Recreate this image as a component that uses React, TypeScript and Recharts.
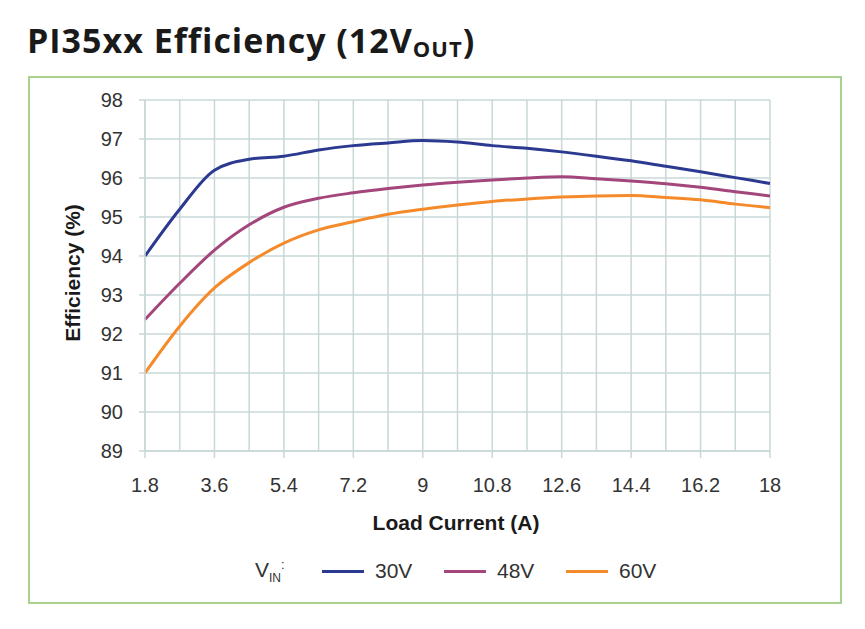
import { LineChart, Line, XAxis, YAxis, CartesianGrid } from "recharts"

const loadCurrent = [1.8, 2.7, 3.6, 4.5, 5.4, 6.3, 7.2, 8.1, 9, 9.9, 10.8, 11.7, 12.6, 13.5, 14.4, 15.3, 16.2, 17.1, 18]
const eff30V = [94.0, 95.2, 96.2, 96.48, 96.56, 96.72, 96.83, 96.9, 96.96, 96.92, 96.83, 96.76, 96.67, 96.56, 96.44, 96.3, 96.16, 96.01, 95.86]
const eff48V = [92.37, 93.3, 94.15, 94.8, 95.25, 95.48, 95.62, 95.73, 95.82, 95.89, 95.95, 96.0, 96.03, 95.98, 95.92, 95.85, 95.76, 95.65, 95.54]
const eff60V = [91.0, 92.2, 93.18, 93.83, 94.33, 94.67, 94.88, 95.07, 95.2, 95.31, 95.4, 95.46, 95.51, 95.54, 95.55, 95.5, 95.44, 95.33, 95.24]

const xTicks = [1.8, 3.6, 5.4, 7.2, 9, 10.8, 12.6, 14.4, 16.2, 18]
const yTicks = [89, 90, 91, 92, 93, 94, 95, 96, 97, 98]

const series = [
  { key: "v30", name: "30V", color: "#2b3990" },
  { key: "v48", name: "48V", color: "#a3467c" },
  { key: "v60", name: "60V", color: "#f58a2b" },
]

const data = loadCurrent.map((x, i) => ({
  x,
  v30: eff30V[i],
  v48: eff48V[i],
  v60: eff60V[i],
}))

const gridColor = "#c9d7d7"
const textColor = "#333"
const font = "'Liberation Sans', Arial, sans-serif"

function LegendBox() {
  return (
    <div style={{ display: "flex", alignItems: "center", fontFamily: font, fontSize: 21, color: textColor }}>
      <span style={{ width: 67 }}>
        V<sub style={{ fontSize: 12 }}>IN</sub>
        <span style={{ fontSize: 13, verticalAlign: "super" }}>:</span>
      </span>
      {series.map(s => (
        <span key={s.key} style={{ display: "flex", alignItems: "center", width: 122 }}>
          <span style={{ width: 42, height: 3, background: s.color, marginRight: 11 }} />
          {s.name}
        </span>
      ))}
    </div>
  )
}

export default function App() {
  return (
    <div style={{ position: "absolute", left: 0, top: 0, width: 865, height: 629, background: "#fff" }}>
      <div
        style={{
          position: "absolute",
          left: 27,
          top: 17,
          fontFamily: "'Open Sans', sans-serif",
          fontWeight: 700,
          fontSize: 34,
          letterSpacing: 1,
          color: "#1a1a1a",
          whiteSpace: "nowrap",
        }}
      >
        PI35xx Efficiency (12V<sub style={{ fontSize: 22, verticalAlign: "-4px" }}>OUT</sub>)
      </div>
      <div
        style={{
          position: "absolute",
          left: 28,
          top: 76,
          width: 810,
          height: 524,
          border: "2px solid #a9d18e",
        }}
      />
      <div style={{ position: "absolute", left: 0, top: 0 }}>
        <LineChart width={865} height={629} data={data} margin={{ top: 100, right: 95, bottom: 148, left: 28 }}>
          <CartesianGrid
            stroke={gridColor}
            strokeWidth={1.5}
            verticalValues={loadCurrent}
            horizontalValues={yTicks}
          />
          <XAxis
            dataKey="x"
            type="number"
            domain={[1.8, 18]}
            ticks={xTicks}
            interval={0}
            height={30}
            tickSize={7}
            tickMargin={20}
            axisLine={{ stroke: gridColor, strokeWidth: 1.5 }}
            tickLine={{ stroke: gridColor, strokeWidth: 1.5 }}
            tick={{ fill: textColor, fontSize: 20, fontFamily: font }}
            label={{
              content: () => (
                <text x={456} y={530} textAnchor="middle" fontFamily={font} fontSize={21} fontWeight={700} fill="#1a1a1a">
                  Load Current (A)
                </text>
              ),
            }}
          />
          <YAxis
            type="number"
            domain={[89, 98]}
            ticks={yTicks}
            interval={0}
            width={117}
            tickSize={6}
            tickMargin={16}
            axisLine={{ stroke: gridColor, strokeWidth: 1.5 }}
            tickLine={{ stroke: gridColor, strokeWidth: 1.5 }}
            tick={{ fill: textColor, fontSize: 20, fontFamily: font }}
            label={{
              content: () => (
                <text
                  x={72}
                  y={273}
                  transform="rotate(-90 72 273)"
                  textAnchor="middle"
                  dominantBaseline="central"
                  fontFamily={font}
                  fontSize={21}
                  fontWeight={700}
                  fill="#1a1a1a"
                >
                  Efficiency (%)
                </text>
              ),
            }}
          />
          {series.map(s => (
            <Line
              key={s.key}
              dataKey={s.key}
              name={s.name}
              type="monotone"
              stroke={s.color}
              strokeWidth={3}
              dot={false}
              isAnimationActive={false}
            />
          ))}
        </LineChart>
      </div>
      <div style={{ position: "absolute", left: 255, top: 557 }}>
        <LegendBox />
      </div>
    </div>
  )
}
